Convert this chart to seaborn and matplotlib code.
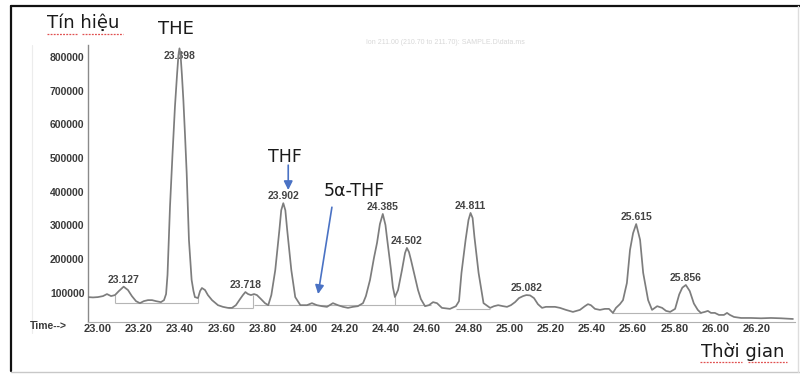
import matplotlib
matplotlib.use("Agg")
import matplotlib.pyplot as plt
import seaborn as sns
import pandas as pd
import numpy as np
from matplotlib.lines import Line2D

# ---------------- data ----------------
time_min = [
    22.954, 22.978, 23.002, 23.027, 23.046, 23.066, 23.085, 23.104, 23.127, 23.148,
    23.167, 23.187, 23.206, 23.225, 23.245, 23.265, 23.284, 23.308, 23.323, 23.333,
    23.340, 23.352, 23.364, 23.376, 23.386, 23.393, 23.398, 23.403, 23.410, 23.417,
    23.425, 23.433, 23.444, 23.457, 23.466, 23.473, 23.488, 23.498, 23.507, 23.522,
    23.536, 23.556, 23.585, 23.609, 23.633, 23.653, 23.672, 23.692, 23.706, 23.718,
    23.731, 23.745, 23.760, 23.774, 23.794, 23.813, 23.829, 23.844, 23.863, 23.883,
    23.892, 23.902, 23.912, 23.921, 23.941, 23.960, 23.985, 24.017, 24.041, 24.065,
    24.090, 24.114, 24.143, 24.167, 24.192, 24.216, 24.240, 24.264, 24.289, 24.303,
    24.323, 24.342, 24.357, 24.371, 24.385, 24.398, 24.405, 24.425, 24.434, 24.444,
    24.459, 24.478, 24.493, 24.502, 24.512, 24.522, 24.541, 24.556, 24.570, 24.590,
    24.609, 24.629, 24.648, 24.672, 24.711, 24.740, 24.755, 24.767, 24.787, 24.801,
    24.811, 24.821, 24.830, 24.850, 24.874, 24.906, 24.925, 24.945, 24.969, 24.988,
    25.007, 25.027, 25.046, 25.066, 25.082, 25.100, 25.119, 25.138, 25.158, 25.177,
    25.196, 25.221, 25.245, 25.274, 25.308, 25.342, 25.366, 25.381, 25.395, 25.415,
    25.439, 25.463, 25.483, 25.502, 25.517, 25.536, 25.551, 25.570, 25.585, 25.600,
    25.615, 25.634, 25.649, 25.673, 25.692, 25.717, 25.741, 25.760, 25.780, 25.804,
    25.824, 25.839, 25.856, 25.875, 25.895, 25.914, 25.929, 25.948, 25.963, 25.978,
    25.997, 26.017, 26.041, 26.056, 26.070, 26.090, 26.124, 26.172, 26.221, 26.269,
    26.318, 26.376,
]
abundance = [
    87000, 86000, 87000, 90000, 96000, 90000, 93000, 105000, 118000, 108000,
    90000, 75000, 69000, 75000, 78000, 78000, 75000, 72000, 78000, 96000,
    153000, 355000, 509000, 652000, 746000, 806000, 826000, 810000, 746000, 672000,
    568000, 456000, 257000, 138000, 105000, 87000, 84000, 105000, 114000, 108000,
    93000, 78000, 63000, 58000, 55000, 55000, 63000, 81000, 93000, 102000,
    96000, 93000, 96000, 93000, 81000, 69000, 63000, 93000, 167000, 286000,
    345000, 366000, 345000, 286000, 167000, 87000, 63000, 63000, 69000, 63000,
    60000, 58000, 69000, 63000, 58000, 55000, 58000, 60000, 69000, 90000,
    138000, 203000, 248000, 304000, 334000, 301000, 265000, 167000, 117000, 87000,
    108000, 167000, 218000, 233000, 221000, 197000, 147000, 108000, 81000, 60000,
    63000, 72000, 69000, 55000, 52000, 60000, 75000, 159000, 257000, 316000,
    337000, 322000, 265000, 159000, 69000, 55000, 60000, 63000, 60000, 58000,
    63000, 72000, 84000, 90000, 93000, 92000, 84000, 66000, 55000, 58000,
    58000, 58000, 55000, 49000, 43000, 49000, 60000, 66000, 63000, 52000,
    49000, 52000, 52000, 40000, 55000, 66000, 78000, 129000, 227000, 277000,
    304000, 257000, 159000, 78000, 49000, 60000, 55000, 46000, 43000, 52000,
    95000, 115000, 123000, 105000, 68000, 49000, 40000, 43000, 46000, 40000,
    40000, 34000, 34000, 40000, 34000, 28000, 25000, 25000, 24000, 25000,
    24000, 22000,
]

peak_rt = [23.127, 23.398, 23.718, 23.902, 24.385, 24.502, 24.811, 25.082, 25.615, 25.856]
peak_labels = ["23.127", "23.398", "23.718", "23.902", "24.385",
               "24.502", "24.811", "25.082", "25.615", "25.856"]

# integration baselines (start, end, level) and drop lines
base_start = [23.085, 23.633, 23.760, 24.740, 25.500]
base_end = [23.488, 23.757, 24.620, 24.905, 25.930]
base_level = [69000, 55000, 63000, 52000, 40000]
drop_time = [23.085, 23.488, 23.757, 24.444]
drop_low = [69000, 69000, 55000, 63000]
drop_high = [93000, 84000, 94000, 87000]

x_ticks = [23.00, 23.20, 23.40, 23.60, 23.80, 24.00, 24.20, 24.40, 24.60,
           24.80, 25.00, 25.20, 25.40, 25.60, 25.80, 26.00, 26.20]
y_ticks = [100000, 200000, 300000, 400000, 500000, 600000, 700000, 800000]

# arrows (tail, head) for the compound call-outs
thf_arrow = ((23.926, 479000), (23.926, 405000))
a5thf_arrow = ((24.138, 354000), (24.071, 96000))

# ---------------- figure ----------------
sns.set_theme(style="white")
plt.rcParams["font.family"] = ["Liberation Sans", "DejaVu Sans"]

W, H = 800, 375
fig = plt.figure(figsize=(8, 3.75), dpi=100)
fig.patch.set_facecolor("white")


def px(x, y):
    return x / W, 1 - y / H


ax = fig.add_axes([88 / W, 1 - 322 / H, (795 - 88) / W, (322 - 45) / H])
ax.set_facecolor("white")

df = pd.DataFrame({"time": time_min, "abundance": abundance})
sns.lineplot(data=df, x="time", y="abundance", ax=ax, color="#7d7d7d",
             lw=1.25, estimator=None, sort=False, zorder=3)
ax.lines[-1].set_solid_joinstyle("round")

ax.hlines(base_level, base_start, base_end, color="#b5b5b5", lw=0.8, zorder=2)
ax.vlines(drop_time, drop_low, drop_high, color="#b5b5b5", lw=0.8, zorder=2)

ax.set_xlim(22.954, 26.386)
ax.set_ylim(13000, 836000)
ax.set_xlabel("")
ax.set_ylabel("")

ax.set_xticks(x_ticks)
ax.set_xticklabels([f"{v:.2f}" for v in x_ticks])
ax.set_xticks(np.arange(23.0, 26.39, 0.04), minor=True)
ax.set_yticks(y_ticks)
ax.set_yticklabels([str(v) for v in y_ticks])

ax.tick_params(axis="x", which="major", direction="in", length=4, width=0.8,
               color="#888888", pad=1.5, labelsize=8, labelcolor="#3a3a3a")
ax.tick_params(axis="x", which="minor", direction="in", length=2, width=0.6,
               color="#999999")
ax.tick_params(axis="y", which="major", length=0, pad=2.5, labelsize=7.5,
               labelcolor="#3a3a3a")
for lab in ax.get_xticklabels() + ax.get_yticklabels():
    lab.set_fontweight("bold")

for s in ["top", "right"]:
    ax.spines[s].set_visible(False)
ax.spines["left"].set_color("#8a8a8a")
ax.spines["left"].set_linewidth(1.0)
ax.spines["bottom"].set_color("#b0b0b0")
ax.spines["bottom"].set_linewidth(0.8)

# peak retention-time labels
apex = np.interp(peak_rt, time_min, abundance)
label_dy = {"23.398": -9.0}
for rt, h, lab in zip(peak_rt, apex, peak_labels):
    ax.annotate(lab, xy=(rt, h), xytext=(0, label_dy.get(lab, 1.5)),
                textcoords="offset points", ha="center", va="bottom",
                fontsize=7.5, fontweight="bold", color="#444444", zorder=1)

# call-out arrows
blue = "#4a72c4"
for tail, head in (thf_arrow, a5thf_arrow):
    ax.annotate("", xy=head, xytext=tail,
                arrowprops=dict(arrowstyle="-|>", color=blue, lw=1.2,
                                mutation_scale=13, shrinkA=0, shrinkB=0),
                zorder=5)

# annotation texts (figure level)
txt_font = ["DejaVu Sans"]
fig.text(*px(47, 23), "Tín hiệu", ha="left", va="center", fontsize=13,
         color="#1a1a1a", family=txt_font)
fig.text(*px(175.5, 29), "THE", ha="center", va="center", fontsize=13,
         color="#1a1a1a", family=txt_font)
fig.text(*px(285, 157), "THF", ha="center", va="center", fontsize=12.5,
         color="#1a1a1a", family=txt_font)
fig.text(*px(354.5, 191), "5α-THF", ha="center", va="center", fontsize=12.5,
         color="#1a1a1a", family=txt_font)
fig.text(*px(743, 352), "Thời gian", ha="center", va="center", fontsize=13,
         color="#1a1a1a", family=txt_font)
fig.text(*px(30, 326), "Time-->", ha="left", va="center", fontsize=7.5,
         fontweight="bold", color="#3a3a3a")
fig.text(*px(445, 43), "Ion 211.00 (210.70 to 211.70): SAMPLE.D\\data.ms",
         ha="center", va="center", fontsize=5, color="#d8d8d8")

# red spell-check underlines
red = "#e05050"
for x0, x1, y in [(47, 77, 34), (82, 123, 34), (700, 742, 362), (748, 787, 362)]:
    fig.add_artist(Line2D([x0 / W, x1 / W], [1 - y / H, 1 - y / H],
                          transform=fig.transFigure, color=red, lw=0.9,
                          ls=(0, (1.5, 1))))

# outer frame of the pasted picture
frame = [((11, 6), (11, 371), "#111111", 1.6),
         ((11, 6), (800, 6), "#111111", 1.6),
         ((11, 372), (800, 372), "#c8c8c8", 1.0),
         ((798, 6), (798, 372), "#dddddd", 1.0),
         ((32, 45), (32, 333), "#ececec", 0.8)]
for (xa, ya), (xb, yb), c, lw in frame:
    fig.add_artist(Line2D([xa / W, xb / W], [1 - ya / H, 1 - yb / H],
                          transform=fig.transFigure, color=c, lw=lw))

fig.savefig("out.png", dpi=100, facecolor="white")
